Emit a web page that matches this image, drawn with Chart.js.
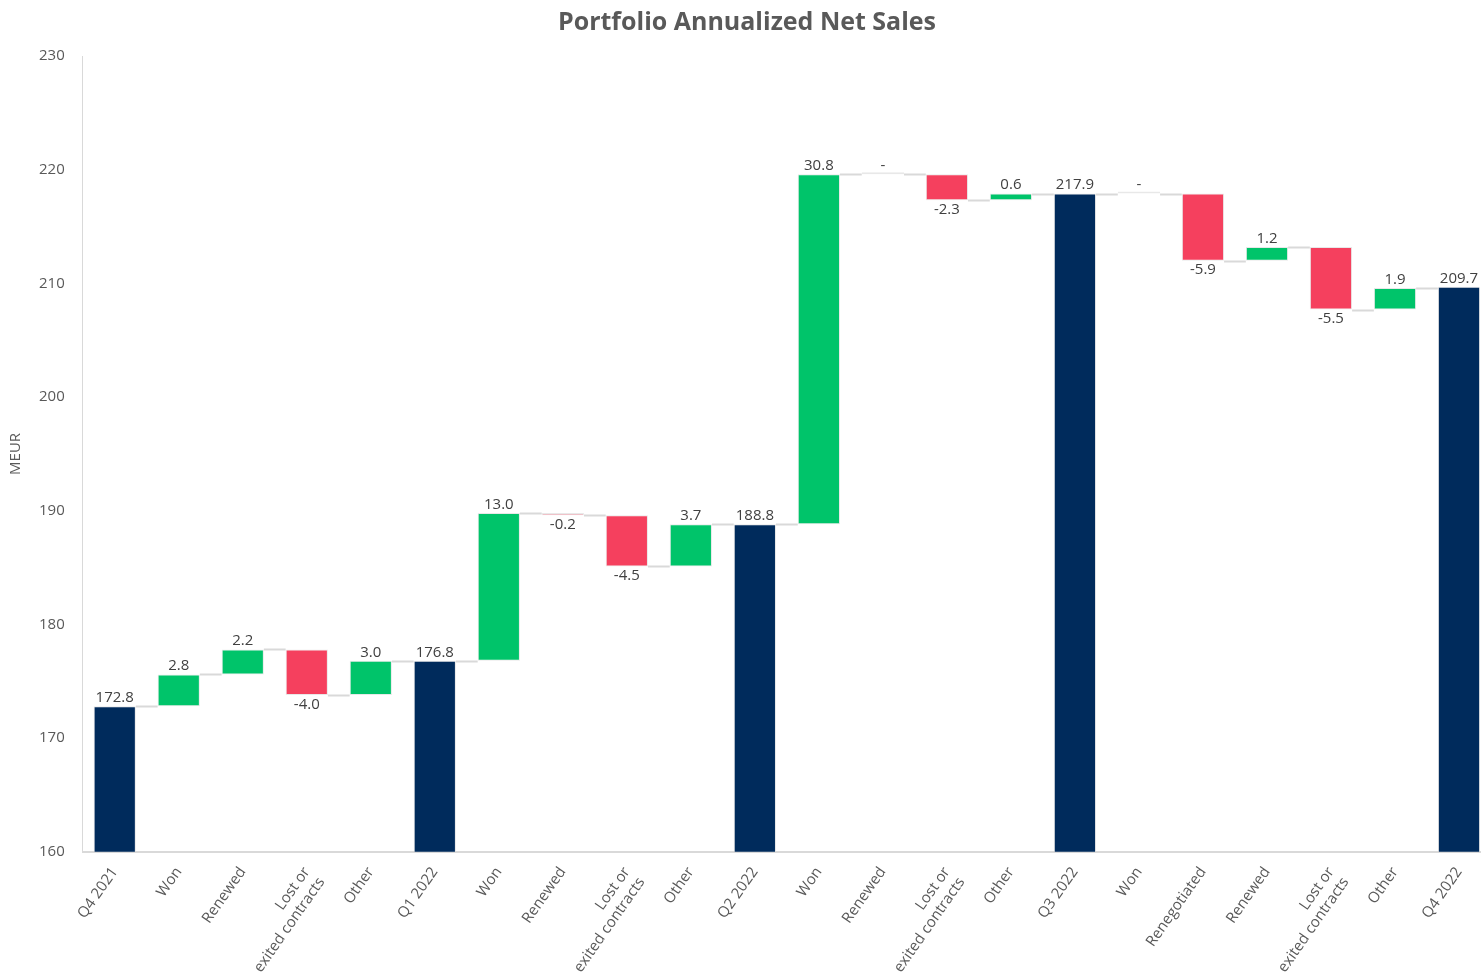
<!DOCTYPE html>
<html>
<head>
  <meta charset="utf-8">
  <title>Portfolio Annualized Net Sales</title>
  <script src="https://cdn.jsdelivr.net/npm/chart.js"></script>
  <style>
    html, body {
      margin: 0;
      padding: 0;
      background: white;
      overflow: hidden;
      font-family: 'Open Sans', sans-serif;
    }
    .wrap {
      width: 1491px;
      height: 980px;
    }
  </style>
</head>
<body>

<div class="wrap">
  <canvas id="waterfall"></canvas>
</div>

<script>
const categories = [
  'Q4 2021', 'Won', 'Renewed', ['Lost or', 'exited contracts'], 'Other',
  'Q1 2022', 'Won', 'Renewed', ['Lost or', 'exited contracts'], 'Other',
  'Q2 2022', 'Won', 'Renewed', ['Lost or', 'exited contracts'], 'Other',
  'Q3 2022', 'Won', 'Renegotiated', 'Renewed', ['Lost or', 'exited contracts'], 'Other',
  'Q4 2022'
];
const changes = [172.8, 2.8, 2.2, -4.0, 3.0, 176.8, 13.0, -0.2, -4.5, 3.7, 188.8, 30.8, 0, -2.3, 0.6, 217.9, 0, -5.9, 1.2, -5.5, 1.9, 209.7];
const isTotal = [true, false, false, false, false, true, false, false, false, false, true, false, false, false, false, true, false, false, false, false, false, true];
const yTicks = [160, 170, 180, 190, 200, 210, 220, 230];

const NAVY = '#002B5C';
const GREEN = '#00C46A';
const RED = '#F5405E';

// floating bars: [start, end]
let run = 0;
const ranges = [];
const levels = [];
changes.forEach((v, i) => {
  if (isTotal[i]) {
    run = v;
    ranges.push([0, v]);
  } else {
    ranges.push([run, run + v]);
    run = run + v;
  }
  levels.push(run);
});
const colors = changes.map((v, i) => isTotal[i] ? NAVY : (v < 0 ? RED : GREEN));

const waterfallExtras = {
  id: 'waterfallExtras',
  afterDatasetsDraw(chart) {
    const ctx = chart.ctx;
    const meta = chart.getDatasetMeta(0);
    const y = chart.scales.y;
    ctx.save();
    // connectors
    ctx.strokeStyle = '#D9D9D9';
    ctx.lineWidth = 2;
    for (let i = 0; i < meta.data.length - 1; i++) {
      const a = meta.data[i], b = meta.data[i + 1];
      const py = Math.round(y.getPixelForValue(levels[i])) + 0.5;
      ctx.beginPath();
      ctx.moveTo(a.x + a.width / 2, py);
      ctx.lineTo(b.x - b.width / 2, py);
      ctx.stroke();
    }
    // value labels
    ctx.fillStyle = '#404040';
    ctx.font = '15px "Open Sans", sans-serif';
    ctx.textAlign = 'center';
    meta.data.forEach((bar, i) => {
      const v = changes[i];
      const r = ranges[i];
      const txt = v === 0 ? '-' : v.toFixed(1);
      if (v < 0 && !isTotal[i]) {
        ctx.textBaseline = 'top';
        ctx.fillText(txt, bar.x, y.getPixelForValue(Math.min(r[0], r[1])) + 2);
      } else {
        ctx.textBaseline = 'bottom';
        ctx.fillText(txt, bar.x, y.getPixelForValue(Math.max(r[0], r[1])) - 1);
      }
    });
    ctx.restore();
  }
};

new Chart(document.getElementById('waterfall'), {
  type: 'bar',
  data: {
    labels: categories,
    datasets: [{
      data: ranges,
      backgroundColor: colors,
      borderColor: 'rgba(217,217,217,0.6)',
      borderWidth: 1,
      borderSkipped: false,
      minBarLength: 2,
      barPercentage: 0.66,
      categoryPercentage: 1
    }]
  },
  options: {
    responsive: true,
    maintainAspectRatio: false,
    animation: false,
    layout: { padding: { left: 3, top: 8 } },
    plugins: {
      legend: { display: false },
      tooltip: { enabled: false },
      title: {
        display: true,
        text: 'Portfolio Annualized Net Sales',
        color: '#595959',
        font: { family: 'Open Sans', size: 25, weight: 'bold' },
        padding: { top: 0, bottom: 18 }
      }
    },
    scales: {
      y: {
        min: yTicks[0],
        max: yTicks[yTicks.length - 1],
        afterBuildTicks: axis => { axis.ticks = yTicks.map(v => ({ value: v })); },
        grid: { display: false },
        border: { display: true, color: '#D9D9D9', width: 1 },
        ticks: { color: '#595959', font: { family: 'Open Sans', size: 15 }, padding: 10 },
        title: { display: true, text: 'MEUR', color: '#595959', font: { family: 'Open Sans', size: 15 } }
      },
      x: {
        grid: { display: false },
        border: { display: true, color: '#D9D9D9', width: 2 },
        ticks: {
          color: '#595959',
          font: { family: 'Open Sans', size: 15 },
          maxRotation: 55,
          minRotation: 55,
          autoSkip: false,
          padding: 4
        }
      }
    }
  },
  plugins: [waterfallExtras]
});
</script>

</body>
</html>
